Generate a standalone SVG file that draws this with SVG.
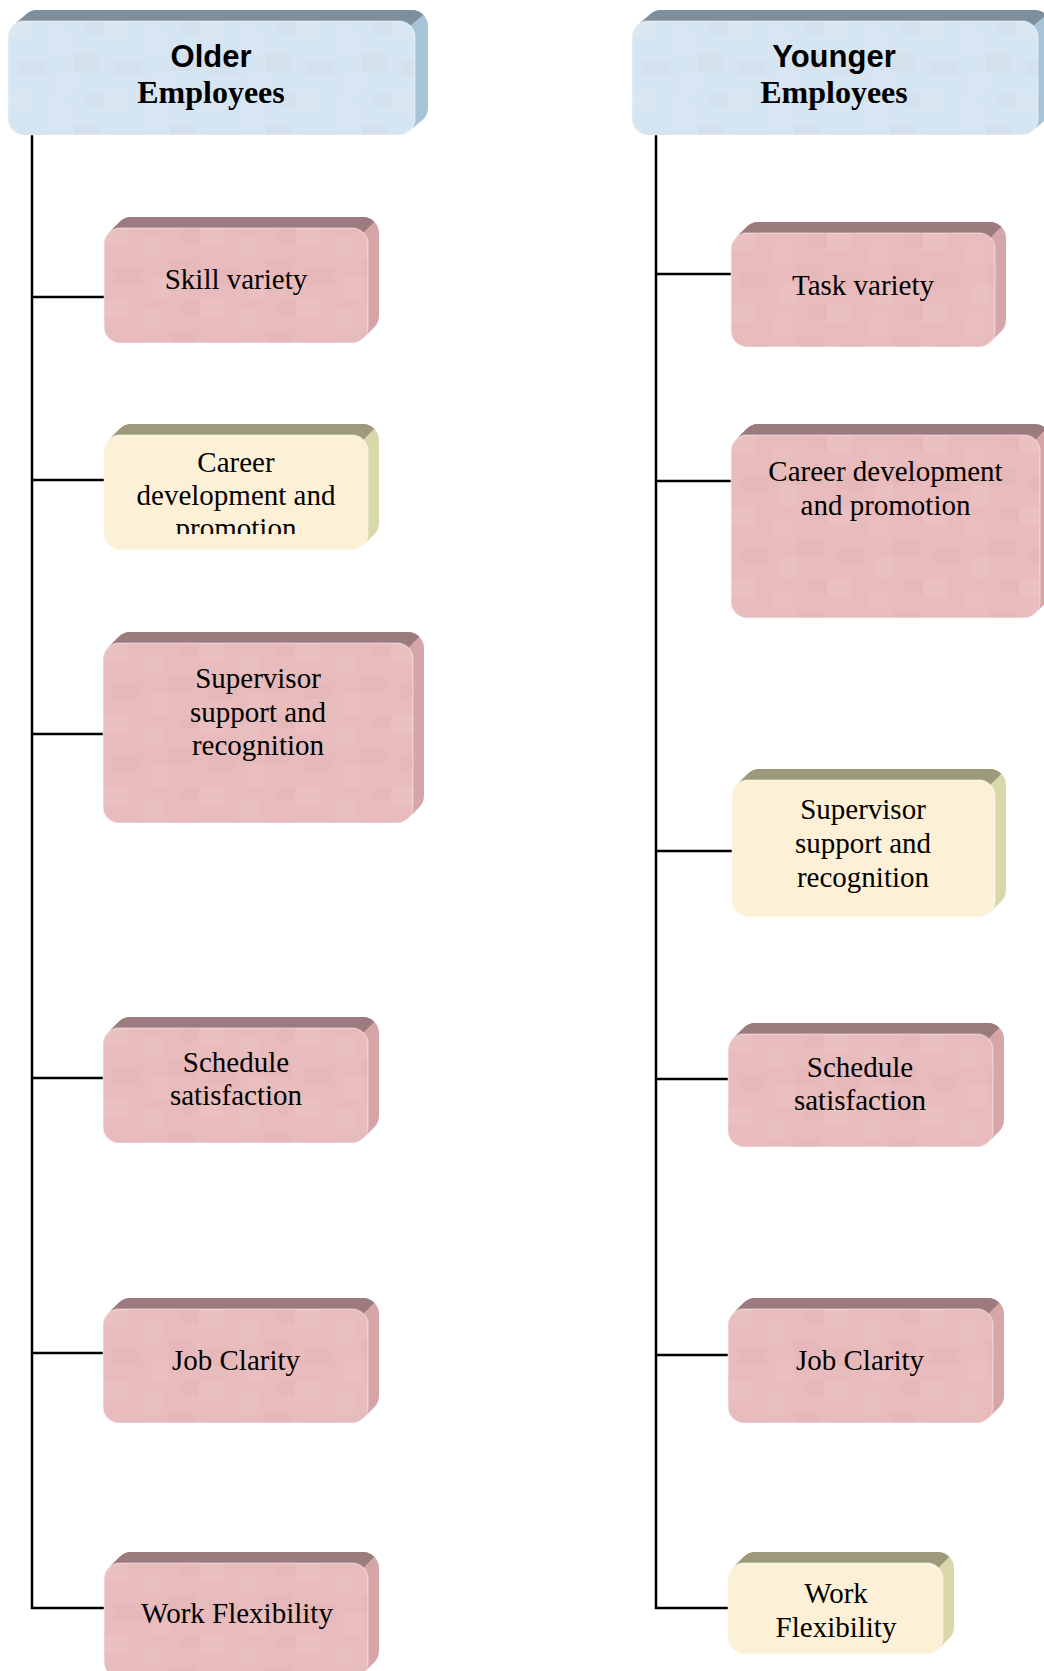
<svg xmlns="http://www.w3.org/2000/svg" width="1044" height="1671" viewBox="0 0 1044 1671">
  <style>
    .wire { fill: none; stroke: #000; stroke-width: 2.5; }
    .lbl { font-family: "Liberation Serif", "Times New Roman", serif; font-size: 29px; fill: #000; text-anchor: middle; }
    .hd1 { font-family: "Liberation Sans", Arial, sans-serif; font-size: 31px; font-weight: bold; fill: #000; text-anchor: middle; }
    .hd2 { font-family: "Liberation Serif", "Times New Roman", serif; font-size: 32px; font-weight: bold; fill: #000; text-anchor: middle; }
    .face { stroke: #ffffff; stroke-opacity: 0.35; stroke-width: 1.5; }
    .pink .side { fill: #d6a5a8; }
    .pink .top { fill: #9b7b7e; }
    .pink .face { fill: #e8bbbc; }
    .cream .side { fill: #d9d8aa; }
    .cream .top { fill: #9c9a7a; }
    .cream .face { fill: #fcf1d7; }
    .blue .side { fill: #a8c3d6; }
    .blue .top { fill: #7e8f9b; }
    .blue .face { fill: #d6e5f2; }
    .tex { fill: url(#mottle); }
  </style>
  <defs>
    <!-- soft blotchy texture laid over the front faces -->
    <pattern id="mottle" patternUnits="userSpaceOnUse" width="96" height="72">
      <rect x="0" y="0" width="24" height="18" fill="#ffffff" opacity="0.07"/>
      <rect x="40" y="8" width="22" height="26" fill="#ffffff" opacity="0.05"/>
      <rect x="66" y="32" width="26" height="18" fill="#b07080" opacity="0.035"/>
      <rect x="10" y="40" width="28" height="16" fill="#b07080" opacity="0.03"/>
      <rect x="48" y="50" width="18" height="22" fill="#ffffff" opacity="0.06"/>
      <rect x="78" y="0" width="18" height="14" fill="#b07080" opacity="0.03"/>
    </pattern>
    <clipPath id="clipCareerL">
      <rect x="0" y="0" width="264" height="99"/>
    </clipPath>
  </defs>

  <!-- connector trees -->
  <g id="connectors">
    <path class="wire" d="M32 135 V1608 H104"/>
    <path class="wire" d="M32 297 H104"/>
    <path class="wire" d="M32 480 H104"/>
    <path class="wire" d="M32 734 H103"/>
    <path class="wire" d="M32 1078 H103"/>
    <path class="wire" d="M32 1353 H103"/>
    <path class="wire" d="M656 135 V1608 H728"/>
    <path class="wire" d="M656 274 H731"/>
    <path class="wire" d="M656 481 H731"/>
    <path class="wire" d="M656 851 H732"/>
    <path class="wire" d="M656 1079 H728"/>
    <path class="wire" d="M656 1355 H728"/>
  </g>

  <!-- headers -->
  <g id="older" class="blue" transform="translate(8,21)">
    <path class="side" d="M4.7 4.7 L17.7 -6.3 A16 16 0 0 1 29 -11 L404 -11 A16 16 0 0 1 420 5 L420 87 A16 16 0 0 1 415.3 98.3 L402.3 109.3 Z"/>
    <path class="top" d="M4.7 4.7 L17.7 -6.3 A16 16 0 0 1 29 -11 L404 -11 A16 16 0 0 1 415.3 -6.3 L402.3 4.7 A16 16 0 0 0 391 0 L16 0 A16 16 0 0 0 4.7 4.7 Z"/>
    <rect class="face" width="407" height="114" rx="16"/>
    <rect class="tex" width="407" height="114" rx="16"/>
    <text class="hd1" x="203" y="46">Older</text>
    <text class="hd2" x="203" y="82">Employees</text>
  </g>
  <g id="younger" class="blue" transform="translate(632,21)">
    <path class="side" d="M4.7 4.7 L17.7 -6.3 A16 16 0 0 1 29 -11 L403 -11 A16 16 0 0 1 419 5 L419 87 A16 16 0 0 1 414.3 98.3 L401.3 109.3 Z"/>
    <path class="top" d="M4.7 4.7 L17.7 -6.3 A16 16 0 0 1 29 -11 L403 -11 A16 16 0 0 1 414.3 -6.3 L401.3 4.7 A16 16 0 0 0 390 0 L16 0 A16 16 0 0 0 4.7 4.7 Z"/>
    <rect class="face" width="406" height="114" rx="16"/>
    <rect class="tex" width="406" height="114" rx="16"/>
    <text class="hd1" x="202" y="46">Younger</text>
    <text class="hd2" x="202" y="82">Employees</text>
  </g>

  <!-- older employees column -->
  <g id="skill-variety" class="pink" transform="translate(104,228)">
    <path class="side" d="M4.7 4.7 L15.7 -6.3 A16 16 0 0 1 27 -11 L259 -11 A16 16 0 0 1 275 5 L275 88 A16 16 0 0 1 270.3 99.3 L259.3 110.3 Z"/>
    <path class="top" d="M4.7 4.7 L15.7 -6.3 A16 16 0 0 1 27 -11 L259 -11 A16 16 0 0 1 270.3 -6.3 L259.3 4.7 A16 16 0 0 0 248 0 L16 0 A16 16 0 0 0 4.7 4.7 Z"/>
    <rect class="face" width="264" height="115" rx="16"/>
    <rect class="tex" width="264" height="115" rx="16"/>
    <text class="lbl" x="132" y="61">Skill variety</text>
  </g>
  <g id="career-older" class="cream" transform="translate(104,435)">
    <path class="side" d="M4.7 4.7 L15.7 -6.3 A16 16 0 0 1 27 -11 L259 -11 A16 16 0 0 1 275 5 L275 88 A16 16 0 0 1 270.3 99.3 L259.3 110.3 Z"/>
    <path class="top" d="M4.7 4.7 L15.7 -6.3 A16 16 0 0 1 27 -11 L259 -11 A16 16 0 0 1 270.3 -6.3 L259.3 4.7 A16 16 0 0 0 248 0 L16 0 A16 16 0 0 0 4.7 4.7 Z"/>
    <rect class="face" width="264" height="115" rx="16"/>
    <g clip-path="url(#clipCareerL)">
      <text class="lbl" x="132" y="37">Career</text>
      <text class="lbl" x="132" y="70">development and</text>
      <text class="lbl" x="132" y="103">promotion</text>
    </g>
  </g>
  <g id="supervisor-older" class="pink" transform="translate(103,643)">
    <path class="side" d="M4.7 4.7 L15.7 -6.3 A16 16 0 0 1 27 -11 L305 -11 A16 16 0 0 1 321 5 L321 153 A16 16 0 0 1 316.3 164.3 L305.3 175.3 Z"/>
    <path class="top" d="M4.7 4.7 L15.7 -6.3 A16 16 0 0 1 27 -11 L305 -11 A16 16 0 0 1 316.3 -6.3 L305.3 4.7 A16 16 0 0 0 294 0 L16 0 A16 16 0 0 0 4.7 4.7 Z"/>
    <rect class="face" width="310" height="180" rx="16"/>
    <rect class="tex" width="310" height="180" rx="16"/>
    <text class="lbl" x="155" y="45">Supervisor</text>
    <text class="lbl" x="155" y="79">support and</text>
    <text class="lbl" x="155" y="112">recognition</text>
  </g>
  <g id="schedule-older" class="pink" transform="translate(103,1028)">
    <path class="side" d="M4.7 4.7 L15.7 -6.3 A16 16 0 0 1 27 -11 L260 -11 A16 16 0 0 1 276 5 L276 88 A16 16 0 0 1 271.3 99.3 L260.3 110.3 Z"/>
    <path class="top" d="M4.7 4.7 L15.7 -6.3 A16 16 0 0 1 27 -11 L260 -11 A16 16 0 0 1 271.3 -6.3 L260.3 4.7 A16 16 0 0 0 249 0 L16 0 A16 16 0 0 0 4.7 4.7 Z"/>
    <rect class="face" width="265" height="115" rx="16"/>
    <rect class="tex" width="265" height="115" rx="16"/>
    <text class="lbl" x="133" y="44">Schedule</text>
    <text class="lbl" x="133" y="77">satisfaction</text>
  </g>
  <g id="job-clarity-older" class="pink" transform="translate(103,1309)">
    <path class="side" d="M4.7 4.7 L15.7 -6.3 A16 16 0 0 1 27 -11 L260 -11 A16 16 0 0 1 276 5 L276 87 A16 16 0 0 1 271.3 98.3 L260.3 109.3 Z"/>
    <path class="top" d="M4.7 4.7 L15.7 -6.3 A16 16 0 0 1 27 -11 L260 -11 A16 16 0 0 1 271.3 -6.3 L260.3 4.7 A16 16 0 0 0 249 0 L16 0 A16 16 0 0 0 4.7 4.7 Z"/>
    <rect class="face" width="265" height="114" rx="16"/>
    <rect class="tex" width="265" height="114" rx="16"/>
    <text class="lbl" x="133" y="61">Job Clarity</text>
  </g>
  <g id="work-flex-older" class="pink" transform="translate(104,1563)">
    <path class="side" d="M4.7 4.7 L15.7 -6.3 A16 16 0 0 1 27 -11 L259 -11 A16 16 0 0 1 275 5 L275 88 A16 16 0 0 1 270.3 99.3 L259.3 110.3 Z"/>
    <path class="top" d="M4.7 4.7 L15.7 -6.3 A16 16 0 0 1 27 -11 L259 -11 A16 16 0 0 1 270.3 -6.3 L259.3 4.7 A16 16 0 0 0 248 0 L16 0 A16 16 0 0 0 4.7 4.7 Z"/>
    <rect class="face" width="264" height="115" rx="16"/>
    <rect class="tex" width="264" height="115" rx="16"/>
    <text class="lbl" x="133" y="60">Work Flexibility</text>
  </g>

  <!-- younger employees column -->
  <g id="task-variety" class="pink" transform="translate(731,233)">
    <path class="side" d="M4.7 4.7 L15.7 -6.3 A16 16 0 0 1 27 -11 L259 -11 A16 16 0 0 1 275 5 L275 87 A16 16 0 0 1 270.3 98.3 L259.3 109.3 Z"/>
    <path class="top" d="M4.7 4.7 L15.7 -6.3 A16 16 0 0 1 27 -11 L259 -11 A16 16 0 0 1 270.3 -6.3 L259.3 4.7 A16 16 0 0 0 248 0 L16 0 A16 16 0 0 0 4.7 4.7 Z"/>
    <rect class="face" width="264" height="114" rx="16"/>
    <rect class="tex" width="264" height="114" rx="16"/>
    <text class="lbl" x="132" y="62">Task variety</text>
  </g>
  <g id="career-younger" class="pink" transform="translate(731,435)">
    <path class="side" d="M4.7 4.7 L15.7 -6.3 A16 16 0 0 1 27 -11 L304 -11 A16 16 0 0 1 320 5 L320 156 A16 16 0 0 1 315.3 167.3 L304.3 178.3 Z"/>
    <path class="top" d="M4.7 4.7 L15.7 -6.3 A16 16 0 0 1 27 -11 L304 -11 A16 16 0 0 1 315.3 -6.3 L304.3 4.7 A16 16 0 0 0 293 0 L16 0 A16 16 0 0 0 4.7 4.7 Z"/>
    <rect class="face" width="309" height="183" rx="16"/>
    <rect class="tex" width="309" height="183" rx="16"/>
    <text class="lbl" x="154.5" y="46">Career development</text>
    <text class="lbl" x="154.5" y="80">and promotion</text>
  </g>
  <g id="supervisor-younger" class="cream" transform="translate(732,780)">
    <path class="side" d="M4.7 4.7 L15.7 -6.3 A16 16 0 0 1 27 -11 L258 -11 A16 16 0 0 1 274 5 L274 110 A16 16 0 0 1 269.3 121.3 L258.3 132.3 Z"/>
    <path class="top" d="M4.7 4.7 L15.7 -6.3 A16 16 0 0 1 27 -11 L258 -11 A16 16 0 0 1 269.3 -6.3 L258.3 4.7 A16 16 0 0 0 247 0 L16 0 A16 16 0 0 0 4.7 4.7 Z"/>
    <rect class="face" width="263" height="137" rx="16"/>
    <text class="lbl" x="131" y="39">Supervisor</text>
    <text class="lbl" x="131" y="73">support and</text>
    <text class="lbl" x="131" y="107">recognition</text>
  </g>
  <g id="schedule-younger" class="pink" transform="translate(728,1034)">
    <path class="side" d="M4.7 4.7 L15.7 -6.3 A16 16 0 0 1 27 -11 L260 -11 A16 16 0 0 1 276 5 L276 86 A16 16 0 0 1 271.3 97.3 L260.3 108.3 Z"/>
    <path class="top" d="M4.7 4.7 L15.7 -6.3 A16 16 0 0 1 27 -11 L260 -11 A16 16 0 0 1 271.3 -6.3 L260.3 4.7 A16 16 0 0 0 249 0 L16 0 A16 16 0 0 0 4.7 4.7 Z"/>
    <rect class="face" width="265" height="113" rx="16"/>
    <rect class="tex" width="265" height="113" rx="16"/>
    <text class="lbl" x="132" y="43">Schedule</text>
    <text class="lbl" x="132" y="76">satisfaction</text>
  </g>
  <g id="job-clarity-younger" class="pink" transform="translate(728,1309)">
    <path class="side" d="M4.7 4.7 L15.7 -6.3 A16 16 0 0 1 27 -11 L260 -11 A16 16 0 0 1 276 5 L276 87 A16 16 0 0 1 271.3 98.3 L260.3 109.3 Z"/>
    <path class="top" d="M4.7 4.7 L15.7 -6.3 A16 16 0 0 1 27 -11 L260 -11 A16 16 0 0 1 271.3 -6.3 L260.3 4.7 A16 16 0 0 0 249 0 L16 0 A16 16 0 0 0 4.7 4.7 Z"/>
    <rect class="face" width="265" height="114" rx="16"/>
    <rect class="tex" width="265" height="114" rx="16"/>
    <text class="lbl" x="132" y="61">Job Clarity</text>
  </g>
  <g id="work-flex-younger" class="cream" transform="translate(728,1563)">
    <path class="side" d="M4.7 4.7 L15.7 -6.3 A16 16 0 0 1 27 -11 L210 -11 A16 16 0 0 1 226 5 L226 64 A16 16 0 0 1 221.3 75.3 L210.3 86.3 Z"/>
    <path class="top" d="M4.7 4.7 L15.7 -6.3 A16 16 0 0 1 27 -11 L210 -11 A16 16 0 0 1 221.3 -6.3 L210.3 4.7 A16 16 0 0 0 199 0 L16 0 A16 16 0 0 0 4.7 4.7 Z"/>
    <rect class="face" width="215" height="91" rx="16"/>
    <text class="lbl" x="108" y="40">Work</text>
    <text class="lbl" x="108" y="74">Flexibility</text>
  </g>
</svg>
